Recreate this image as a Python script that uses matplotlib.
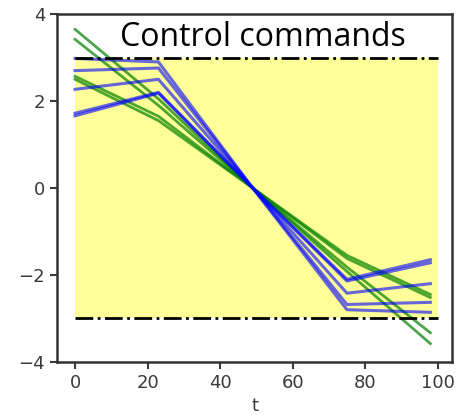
import numpy as np
import matplotlib
matplotlib.use('Agg')
import matplotlib.pyplot as plt

# knot times of the piecewise control signals
t_knots = [0, 23, 49, 75, 98]

# blue (saturated) commands
blue_lines = [
    [2.98, 2.90, 0.0, -2.80, -2.86],
    [2.70, 2.76, 0.0, -2.68, -2.63],
    [2.27, 2.50, 0.0, -2.42, -2.20],
    [1.72, 2.20, 0.0, -2.10, -1.65],
    [1.66, 2.18, 0.0, -2.14, -1.72],
]

# green (unconstrained) commands
green_lines = [
    [3.65, 2.05, 0.0, -1.92, -3.58],
    [3.42, 1.90, 0.0, -1.82, -3.33],
    [2.57, 1.65, 0.0, -1.62, -2.52],
    [2.50, 1.55, 0.0, -1.55, -2.45],
]

u_max = 3.0
t_span = [0, 100]


def main():
    fig = plt.figure(figsize=(4.59, 4.15), dpi=100)
    ax = fig.add_axes([0.124, 0.128, 0.861, 0.838])

    ax.fill_between(t_span, -u_max, u_max, color='yellow', alpha=0.4, lw=0)

    for vals in green_lines:
        ax.plot(t_knots, vals, color='green', lw=2, alpha=0.7)
    for vals in blue_lines:
        ax.plot(t_knots, vals, color='blue', lw=2.2, alpha=0.6)

    ax.plot(t_span, [u_max, u_max], color='k', ls='-.', lw=2)
    ax.plot(t_span, [-u_max, -u_max], color='k', ls='-.', lw=2)

    ax.set_xlim(-5, 104)
    ax.set_ylim(-4, 4)
    ax.set_xticks([0, 20, 40, 60, 80, 100])
    ax.set_yticks([-4, -2, 0, 2, 4])
    ax.tick_params(labelsize=13, colors='#3a3a3a', length=5, width=1.5)
    for sp in ax.spines.values():
        sp.set_linewidth(1.8)
        sp.set_color('#333333')
    ax.set_xlabel('t', fontsize=13, color='#3a3a3a', labelpad=4)

    ax.text(0.52, 3.26, 'Control commands', transform=ax.get_yaxis_transform(),
            ha='center', va='baseline', fontsize=23, family='Open Sans')

    fig.savefig('out.png', dpi=100)


if __name__ == '__main__':
    main()
